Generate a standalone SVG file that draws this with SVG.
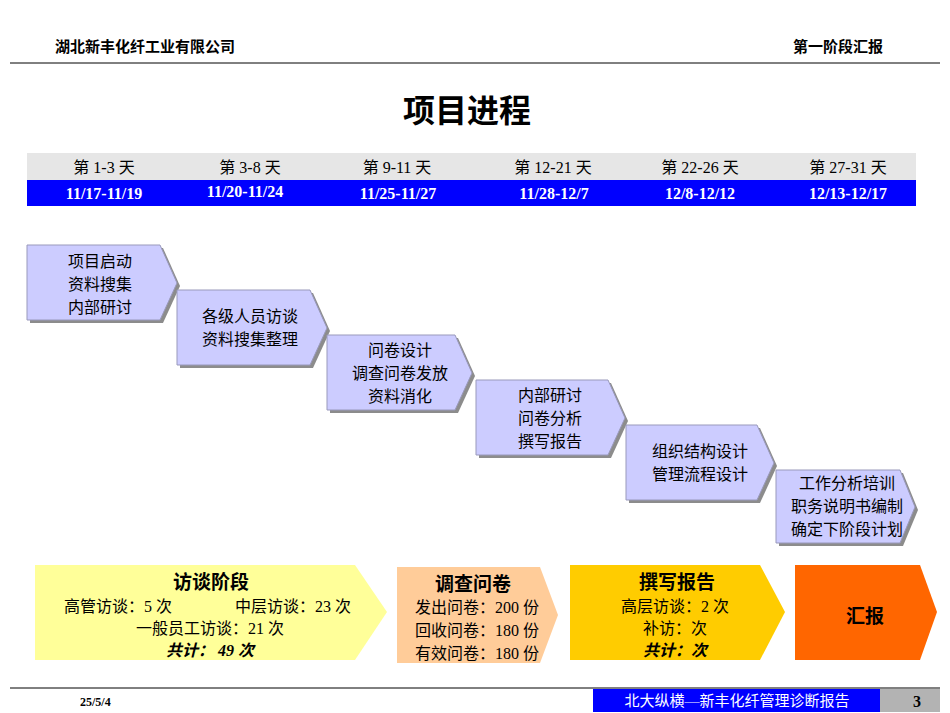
<svg xmlns="http://www.w3.org/2000/svg" width="950" height="713" viewBox="0 0 950 713">
<style>
text{font-family:"Liberation Serif","Noto Sans CJK SC",serif;}
.h{font-family:"Liberation Sans","Noto Sans CJK SC",sans-serif;font-weight:bold;font-size:15px}
.d{font-size:16px;fill:#000;text-anchor:middle}
.dw{font-size:16px;font-weight:bold;fill:#fff;text-anchor:middle}
.s{fill:#ccccff;stroke:#9999bb;stroke-width:1}
.sh{fill:#8c8c8c}
.t{font-size:16px;text-anchor:middle;fill:#000}
.b{font-size:16px;text-anchor:middle;fill:#000}
.bt{font-size:19px;font-weight:bold;text-anchor:middle}
</style>
<rect width="950" height="713" fill="#fff"/>
<text class="h" x="55" y="52">湖北新丰化纤工业有限公司</text>
<text class="h" x="793" y="52">第一阶段汇报</text>
<line x1="10" y1="63" x2="940" y2="63" stroke="#000" stroke-width="1"/>
<text x="467" y="122" font-size="32" font-weight="bold" text-anchor="middle" font-family="Liberation Sans,Noto Sans CJK SC,sans-serif">项目进程</text>
<g id="header">
<rect x="27" y="153" width="889" height="27" fill="#e6e6e6"/>
<rect x="27" y="180" width="889" height="26" fill="#0000ff"/>
<text class="d" x="104" y="173">第 1-3 天</text><text class="d" x="250" y="173">第 3-8 天</text><text class="d" x="397" y="173">第 9-11 天</text><text class="d" x="553" y="173">第 12-21 天</text><text class="d" x="700" y="173">第 22-26 天</text><text class="d" x="848" y="173">第 27-31 天</text>
<text class="dw" x="104" y="199">11/17-11/19</text><text class="dw" x="245" y="197">11/20-11/24</text><text class="dw" x="398" y="199">11/25-11/27</text><text class="dw" x="554" y="199">11/28-12/7</text><text class="dw" x="700" y="199">12/8-12/12</text><text class="dw" x="848" y="199">12/13-12/17</text>
</g>
<g id="steps">
<g id="s1"><polygon class="sh" points="30,248 163,248 180,286 163,323 30,323"/><polygon class="s" points="27,245 160,245 177,283 160,320 27,320"/>
<text class="t" x="100" y="267">项目启动</text><text class="t" x="100" y="290">资料搜集</text><text class="t" x="100" y="313">内部研讨</text></g>
<g id="s2"><polygon class="sh" points="180,293 313,293 330,331 313,368 180,368"/><polygon class="s" points="177,290 310,290 327,328 310,365 177,365"/>
<text class="t" x="250" y="322">各级人员访谈</text><text class="t" x="250" y="345">资料搜集整理</text></g>
<g id="s3"><polygon class="sh" points="330,338 458,338 475,376 458,413 330,413"/><polygon class="s" points="327,335 455,335 472,373 455,410 327,410"/>
<text class="t" x="400" y="356">问卷设计</text><text class="t" x="400" y="379">调查问卷发放</text><text class="t" x="400" y="402">资料消化</text></g>
<g id="s4"><polygon class="sh" points="479,383 611,383 628,421 611,458 479,458"/><polygon class="s" points="476,380 608,380 625,418 608,455 476,455"/>
<text class="t" x="550" y="401">内部研讨</text><text class="t" x="550" y="424">问卷分析</text><text class="t" x="550" y="447">撰写报告</text></g>
<g id="s5"><polygon class="sh" points="629,428 760,428 777,466 760,503 629,503"/><polygon class="s" points="626,425 757,425 774,463 757,500 626,500"/>
<text class="t" x="700" y="457">组织结构设计</text><text class="t" x="700" y="480">管理流程设计</text></g>
<g id="s6"><polygon class="sh" points="779,473 903,473 918,510 903,546 779,546"/><polygon class="s" points="776,470 900,470 915,507 900,543 776,543"/>
<text class="t" x="847" y="489">工作分析培训</text><text class="t" x="847" y="512">职务说明书编制</text><text class="t" x="847" y="535">确定下阶段计划</text></g>
</g>
<g id="phases">
<g id="p1"><polygon points="35,565 355,565 387,612 355,660 35,660" fill="#ffff99"/>
<text class="bt" x="211" y="589">访谈阶段</text><text class="b" x="118" y="612">高管访谈：5 次</text><text class="b" x="293" y="612">中层访谈：23 次</text><text class="b" x="210" y="634">一般员工访谈：21 次</text><text class="b" x="210" y="656" font-weight="bold" font-style="italic">共计：  49 次</text></g>
<g id="p2"><polygon points="397,567 540,567 558,615 540,663 397,663" fill="#ffcc99"/>
<text class="bt" x="473" y="591">调查问卷</text><text class="b" x="477" y="613">发出问卷：200 份</text><text class="b" x="477" y="636">回收问卷：180 份</text><text class="b" x="477" y="659">有效问卷：180 份</text></g>
<g id="p3"><polygon points="570,565 760,565 785,612 760,660 570,660" fill="#ffcc00"/>
<text class="bt" x="677" y="589">撰写报告</text><text class="b" x="675" y="612">高层访谈：2 次</text><text class="b" x="675" y="634">补访：次</text><text class="b" x="675" y="656" font-weight="bold" font-style="italic">共计：次</text></g>
<g id="p4"><polygon points="795,565 920,565 937,612 920,660 795,660" fill="#ff6600"/>
<text class="bt" x="865" y="623">汇报</text></g>
</g>
<line x1="10" y1="688" x2="940" y2="688" stroke="#000" stroke-width="1"/>
<text x="80" y="706" font-size="12" font-weight="bold">25/5/4</text>
<rect x="593" y="689" width="287" height="23" fill="#0000ff"/>
<text x="737" y="706" font-size="15" fill="#fff" text-anchor="middle">北大纵横—新丰化纤管理诊断报告</text>
<rect x="880" y="689" width="60" height="23" fill="#b3b3b3"/>
<text x="917" y="707" font-size="16" font-weight="bold" text-anchor="middle">3</text>
</svg>
